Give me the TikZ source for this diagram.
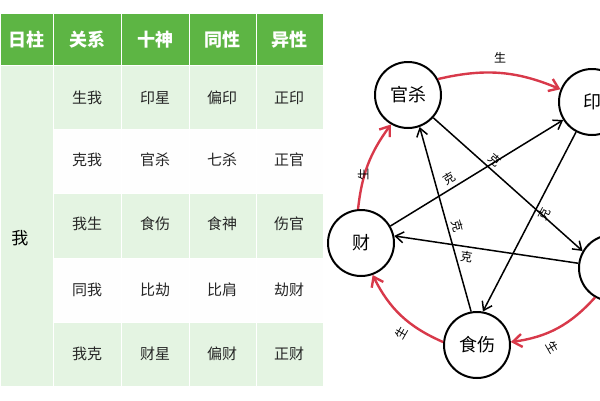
\documentclass[tikz,border=0pt]{standalone}
\usepackage{fontspec}
\setmainfont{Noto Sans CJK SC}
\begin{document}
\begin{tikzpicture}[x=1pt,y=-1pt,
  hdr/.style={fill=hg,draw=white,line width=0.8pt},
  cellg/.style={fill=lg,draw=white,line width=0.8pt},
  cellw/.style={fill=white!95!lg,draw=white,line width=0.8pt},
  el/.style={circle,draw,line width=2pt,minimum size=66pt,inner sep=0pt,font=\fontsize{18}{18}\selectfont,fill=white},
  kearr/.style={->,line width=1.5pt,>={Straight Barb[length=8pt,width=11pt]}},
  shengarr/.style={->,line width=2.4pt,draw=sred,>={Straight Barb[length=9pt,width=13pt]}},
  lab/.style={font=\fontsize{12}{12}\selectfont},
  tx/.style={font=\fontsize{15}{15}\selectfont,text=black!85}]
\usetikzlibrary{arrows.meta}
\definecolor{hg}{HTML}{5DB544}
\definecolor{lg}{HTML}{E4F4E2}
\definecolor{sred}{HTML}{D8394A}
\useasboundingbox (0,0) rectangle (600,400);
\fill[white] (0,0) rectangle (600,400);
\foreach \a/\b/\t in {0/53/日柱,53/121/关系,121/189/十神,189/256/同性,256/323/异性}{
  \path[hdr] (\a,13) rectangle (\b,65);
  \node[text=white,font=\fontsize{18}{18}\selectfont\bfseries] (h\a) at ({(\a+\b)/2},40) {\t};
}
\path[cellg] (0,65) rectangle (53,386);
\node[font=\fontsize{17}{17}\selectfont] (wo) at (20,238) {我};
\foreach \r/\ya/\yb/\s in {1/65/129/cellg,2/129/193/cellw,3/193/258/cellg,4/258/322/cellw,5/322/386/cellg}{
  \foreach \a/\b in {53/121,121/189,189/256,256/323}{
    \path[\s] (\a,\ya) rectangle (\b,\yb);
  }
}
\foreach \y/\p/\q/\u/\v in {98/生我/印星/偏印/正印,160/克我/官杀/七杀/正官,224/我生/食伤/食神/伤官,290/同我/比劫/比肩/劫财,354/我克/财星/偏财/正财}{
  \node[tx] at (87,\y) {\p};
  \node[tx] at (155,\y) {\q};
  \node[tx] at (222,\y) {\u};
  \node[tx] at (289,\y) {\v};
}
\node[el] (gs) at (408,95) {官杀};
\node[el] (yin) at (592,102) {印};
\node[el] (cai) at (361,243) {财};
\node[el] (bi) at (612,268) {比};
\node[el] (ss) at (477,345) {食伤};
\draw[kearr] (gs.-42) -- node[lab,pos=0.37,sloped,above] {克} (bi.150);
\draw[kearr] (bi.172) -- node[lab,pos=0.6,sloped,below] {克} (cai.12);
\draw[kearr] (cai.30) -- node[lab,pos=0.37,sloped,above] {克} (yin.-148);
\draw[kearr] (yin.-118) -- node[lab,pos=0.43,sloped,below] {克} (ss.80);
\draw[kearr] (ss.100) -- node[lab,pos=0.45,sloped,above] {克} (gs.-70);
\draw[shengarr] (gs.28) to[bend left=18] node[lab,text=black,above=5pt] {生} (yin.158);
\draw[shengarr] (cai.95) to[bend left=15] node[lab,text=black,left=5pt,rotate=90] {生} (gs.-120);
\draw[shengarr] (bi.-120) to[bend left=20] node[lab,text=black,pos=0.55,below right=3pt,rotate=-60] {生} (ss.5);
\draw[shengarr] (ss.175) to[bend left=20] node[lab,text=black,below left=3pt,rotate=60] {生} (cai.-70);
\end{tikzpicture}
\end{document}
